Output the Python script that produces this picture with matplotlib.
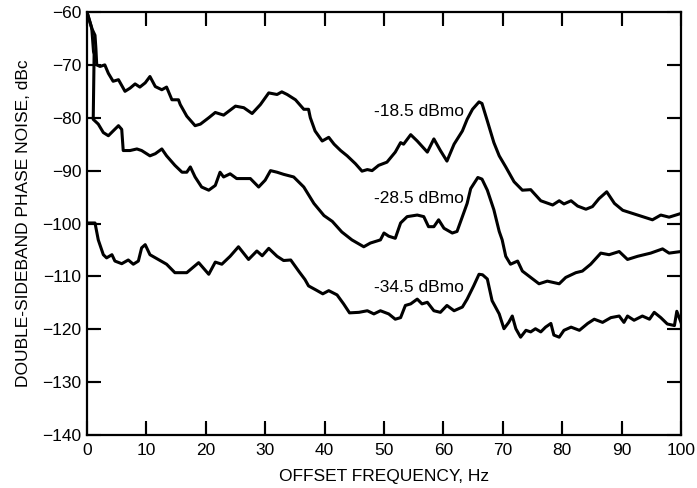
import matplotlib
matplotlib.use("Agg")
import matplotlib.pyplot as plt

# --- Data (offset frequency in Hz, noise in dBc) ---
freq_185 = [0, 0.8, 1.35, 1.5, 1.64, 2.2, 3.0, 3.6, 4.4, 5.3, 6.4, 7.25, 8.1, 8.9, 9.8,
            10.6, 11.5, 12.6, 13.4, 14.3, 15.4, 15.7, 16.8, 18.2, 19.1, 20.5, 21.6, 23.0,
            25.0, 26.4, 27.8, 29.2, 30.6, 32.0, 32.8, 33.7, 35.1, 36.5, 37.3, 37.6, 38.4,
            39.6, 40.7, 41.6, 42.7, 43.8, 45.2, 46.3, 47.2, 48.0, 49.1, 50.5, 51.9, 52.8,
            53.3, 54.5, 55.6, 57.3, 58.4, 59.5, 60.6, 61.8, 63.2, 64.0, 64.9, 66.0, 66.5,
            67.4, 68.5, 69.4, 70.5, 71.9, 73.3, 74.7, 76.4, 78.4, 79.5, 80.3, 81.5, 82.6,
            84.0, 85.1, 86.2, 87.5, 88.8, 90.2, 92.7, 95.2, 96.6, 98.0, 100.0]
noise_185 = [-60, -63.1, -64.4, -66.9, -70, -70.3, -70, -71.6, -73.1, -72.8, -75, -74.4,
             -73.6, -74.2, -73.4, -72.2, -74.1, -74.7, -74.2, -76.6, -76.6, -77.5, -79.7,
             -81.5, -81.2, -80, -79, -79.5, -77.8, -78.1, -79.2, -77.5, -75.3, -75.6, -75.1,
             -75.6, -76.6, -78.4, -78.4, -80, -82.5, -84.4, -83.7, -85, -86.2, -87.2, -88.7,
             -90.1, -89.8, -90, -89, -88.4, -86.5, -84.7, -85, -83.2, -84.4, -86.5, -84,
             -86.2, -88.2, -85, -82.5, -80.3, -78.4, -77.0, -77.3, -80.6, -84.7, -87.2,
             -89.3, -92.1, -93.7, -93.6, -95.7, -96.5, -95.7, -96.3, -95.7, -96.7, -97.3,
             -96.8, -95.3, -94, -96.2, -97.5, -98.4, -99.3, -98.4, -98.8, -98.1]

freq_285 = [0, 0.8, 1.1, 1.2, 1.05, 1.9, 2.75, 3.6, 4.4, 5.3, 5.85, 6.1, 7.25, 8.4, 9.2,
            10.6, 11.5, 12.6, 13.4, 14.8, 16.0, 16.8, 17.4, 18.2, 19.3, 20.5, 21.6, 22.4,
            23.0, 24.1, 25.2, 27.5, 28.9, 30.0, 30.9, 32.0, 33.1, 34.8, 36.5, 38.2, 39.9,
            41.3, 42.9, 44.6, 46.6, 47.7, 49.4, 50.0, 50.8, 51.9, 52.8, 53.9, 55.6, 56.7,
            57.5, 58.4, 59.2, 60.1, 61.5, 62.3, 63.2, 64.0, 64.6, 65.8, 66.5, 67.4, 68.5,
            69.4, 69.9, 70.5, 71.3, 72.5, 73.3, 74.7, 76.1, 77.5, 79.5, 80.6, 82.3, 83.4,
            84.8, 86.5, 87.9, 89.6, 91.0, 92.7, 94.9, 96.9, 98.0, 100.0]
noise_285 = [-60, -63, -67.5, -68, -80.3, -81.2, -82.8, -83.4, -82.5, -81.5, -82.2, -86.2,
             -86.2, -85.9, -86.2, -87.2, -86.8, -85.9, -87.2, -89, -90.3, -90.3, -89.3,
             -91.2, -93.1, -93.7, -92.8, -90.3, -91.2, -90.6, -91.5, -91.5, -93.1, -91.8,
             -90, -90.3, -90.7, -91.2, -93.1, -96.2, -98.5, -99.6, -101.6, -103.1, -104.4,
             -103.7, -103.1, -101.8, -102.4, -102.8, -99.9, -98.7, -98.4, -98.7, -100.6,
             -100.6, -99.3, -100.9, -101.8, -101.5, -98.7, -96.2, -93.4, -91.3, -91.6,
             -93.7, -97.4, -101.5, -103.1, -106.2, -107.7, -107.1, -109, -110.2, -111.4,
             -110.9, -111.4, -110.2, -109.3, -109, -107.7, -105.6, -105.9, -105.3, -106.8,
             -106.2, -105.6, -104.8, -105.6, -105.3]

freq_345 = [0, 1.35, 1.9, 2.75, 3.3, 4.2, 4.7, 5.85, 6.95, 7.8, 8.65, 9.2, 9.8, 10.6, 12.0,
            13.4, 14.8, 16.8, 18.8, 20.5, 21.6, 22.7, 24.1, 25.5, 27.2, 28.6, 29.5, 30.6,
            32.0, 33.1, 34.3, 35.7, 36.7, 37.3, 38.6, 39.7, 40.7, 42.1, 43.2, 44.2, 45.8,
            47.2, 48.3, 49.4, 50.8, 51.9, 52.8, 53.6, 54.5, 55.6, 56.4, 57.3, 58.4, 59.5,
            60.6, 61.8, 63.2, 64.0, 65.1, 66.0, 66.6, 67.4, 68.2, 69.4, 70.2, 71.0, 71.6,
            72.2, 73.0, 73.9, 74.7, 75.5, 76.4, 77.2, 78.1, 78.6, 79.5, 80.3, 81.5, 82.9,
            84.3, 85.4, 86.8, 88.2, 89.6, 90.4, 91.0, 92.1, 93.5, 94.7, 95.5, 96.6, 97.7,
            98.9, 99.3, 100.0]
noise_345 = [-99.9, -99.9, -103.1, -105.9, -106.5, -105.9, -107.1, -107.6, -106.9, -107.7,
             -107.1, -104.6, -104, -105.9, -106.8, -107.7, -109.3, -109.3, -107.4, -109.6,
             -107.3, -107.7, -106.2, -104.4, -106.8, -105.2, -106.1, -104.7, -106.2, -107,
             -106.9, -109.1, -110.6, -111.8, -112.6, -113.3, -112.7, -113.5, -115.2, -116.9,
             -116.8, -116.5, -117.1, -116.5, -117.1, -118.1, -117.8, -115.5, -115.2, -114.3,
             -115.2, -114.9, -116.5, -116.8, -115.5, -116.5, -115.8, -114.3, -111.8, -109.6,
             -109.7, -110.5, -114.6, -117.1, -119.9, -118.7, -117.5, -119.9, -121.5, -120.2,
             -120.5, -119.9, -120.5, -119.6, -118.9, -121.1, -121.5, -120.2, -119.6, -120.2,
             -118.9, -118.1, -118.7, -117.8, -117.5, -118.7, -117.5, -118.3, -117.5, -118.1,
             -116.8, -117.8, -119, -119.3, -116.6, -118.7]

labels = ["-18.5 dBmo", "-28.5 dBmo", "-34.5 dBmo"]
label_y = [-78.8, -95.3, -112.1]
x_ticks = list(range(0, 101, 10))
y_ticks = list(range(-140, -59, 10))

plt.rcParams['font.family'] = ['Liberation Sans', 'DejaVu Sans']

fig = plt.figure(figsize=(6.97, 4.88), dpi=100)
ax = fig.add_axes([0.1248, 0.1086, 0.8522, 0.8668])

ax.plot(freq_185, noise_185, color='black', lw=2.2, solid_joinstyle='round')
ax.plot(freq_285, noise_285, color='black', lw=2.2, solid_joinstyle='round')
ax.plot(freq_345, noise_345, color='black', lw=2.2, solid_joinstyle='round')
for txt, yy in zip(labels, label_y):
    ax.text(63.4, yy, txt, ha='right', va='center', fontsize=12.5)

ax.set_xlim(0, 100)
ax.set_ylim(-140, -60)
ax.set_xticks(x_ticks)
ax.set_yticks(y_ticks)

for s in ax.spines.values():
    s.set_linewidth(1.6)

ax.tick_params(axis='x', which='major', direction='in', length=10, width=1.5,
               color='black', top=True, bottom=True, labelsize=12.5, pad=6)
ax.tick_params(axis='y', which='major', direction='in', length=10, width=1.5,
               color='black', left=True, right=True, labelsize=12.5, pad=4)

# inward tick marks on all four sides, drawn as line collections as well
tl_x, tl_y = 0.028, 0.02
xt = ax.get_xaxis_transform()
yt = ax.get_yaxis_transform()
ax.vlines(x_ticks[1:-1], 0, tl_x, transform=xt, color='black', lw=1.5, clip_on=False)
ax.vlines(x_ticks[1:-1], 1 - tl_x, 1, transform=xt, color='black', lw=1.5, clip_on=False)
ax.hlines(y_ticks[1:-1], 0, tl_y, transform=yt, color='black', lw=1.5, clip_on=False)
ax.hlines(y_ticks[1:-1], 1 - tl_y, 1, transform=yt, color='black', lw=1.5, clip_on=False)

ax.set_xlabel("OFFSET FREQUENCY, Hz", fontsize=12.5, labelpad=8)
ax.set_ylabel("DOUBLE-SIDEBAND PHASE NOISE, dBc", fontsize=12.5, labelpad=8)

fig.savefig("out.png", dpi=100)
